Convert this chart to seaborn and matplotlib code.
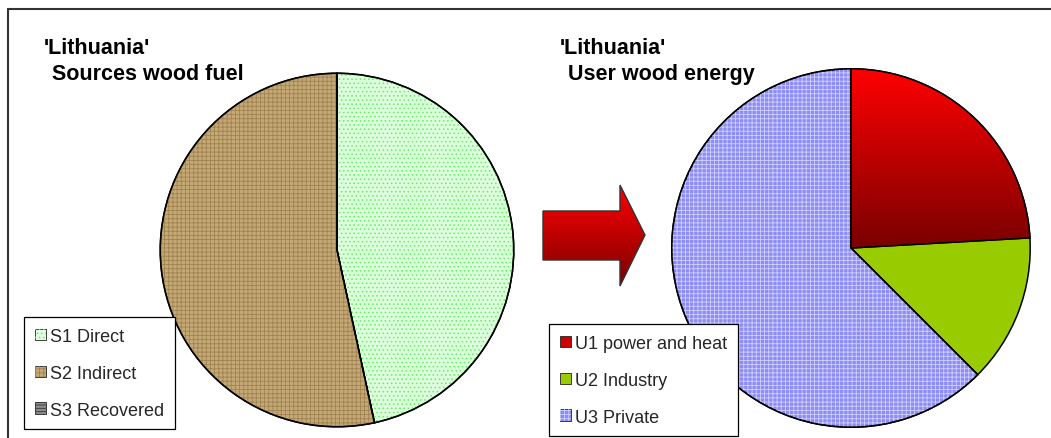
import numpy as np
import seaborn as sns
import matplotlib.pyplot as plt
from matplotlib.patches import Patch, Polygon, Wedge
from matplotlib.lines import Line2D

# Data (percent shares)
sources = ["S1 Direct", "S2 Indirect", "S3 Recovered"]
source_share = [46.6, 53.4, 0.0]
users = ["U1 power and heat", "U2 Industry", "U3 Private"]
user_share = [24.1, 13.4, 62.5]

sns.set_style("white")
plt.rcParams["font.family"] = ["Liberation Sans", "DejaVu Sans"]
plt.rcParams["hatch.linewidth"] = 0.6

W, H = 1051, 439
fig = plt.figure(figsize=(W / 100, H / 100), dpi=100)

# base fill colours and texture overlays (hatch, hatch colour)
src_fill = ["#dcffdc", "#c4a876", "#8c8c8c"]
src_tex = [("....", "#66ee66"), ("++++", "#a08350"), ("-----", "#333333")]
usr_fill = ["#cc0000", "#99cc00", "#8c8cf4"]
usr_tex = [(None, None), (None, None), ("++++", "#d0d0ff")]


def px_rect(cx, cy, r):
    return [(cx - r) / W, (H - cy - r) / H, 2 * r / W, 2 * r / H]


def textured_pie(rect, values, fills, textures):
    ax = fig.add_axes(rect)
    wedges, _ = ax.pie(values, colors=fills, startangle=90, counterclock=False,
                       wedgeprops=dict(edgecolor="black", linewidth=1.1))
    handles = []
    for w, fc, (hatch, hc) in zip(wedges, fills, textures):
        base = Patch(facecolor=fc, edgecolor="#222222", linewidth=0.6)
        if hatch:
            # texture on top of the fill, then the outline again
            tw = Wedge(w.center, w.r, w.theta1, w.theta2, facecolor="none",
                       hatch=hatch, edgecolor=hc, linewidth=0)
            ax.add_patch(tw)
            ol = Wedge(w.center, w.r, w.theta1, w.theta2, facecolor="none",
                       edgecolor="black", linewidth=1.1)
            ax.add_patch(ol)
            handles.append((base, Patch(facecolor="none", hatch=hatch,
                                        edgecolor=hc, linewidth=0)))
        else:
            handles.append(base)
    ax.set_xlim(-1.01, 1.01)
    ax.set_ylim(-1.01, 1.01)
    ax.set_aspect("equal")
    ax.axis("off")
    return ax, wedges, handles


ax1, w1, h1 = textured_pie(px_rect(337, 251, 178.5), source_share, src_fill, src_tex)
ax2, w2, h2 = textured_pie(px_rect(851, 249, 181), user_share, usr_fill, usr_tex)

# red gradient on U1 wedge
u1 = w2[0]
bb = u1.get_path().get_extents()
grad = np.linspace(0, 1, 256).reshape(-1, 1)
red_cmap = sns.blend_palette(["#7a0000", "#ff0000"], as_cmap=True)
im = ax2.imshow(grad, cmap=red_cmap, origin="lower", aspect="auto",
                extent=(bb.x0, bb.x1, bb.y0, bb.y1), zorder=u1.get_zorder() + 0.1)
im.set_clip_path(u1)
ax2.add_patch(Wedge(u1.center, u1.r, u1.theta1, u1.theta2, facecolor="none",
                    edgecolor="black", linewidth=1.1, zorder=im.get_zorder() + 0.1))
ax2.set_xlim(-1.01, 1.01)
ax2.set_ylim(-1.01, 1.01)

# overlay axes in pixel space for frame, arrow and titles
ov = fig.add_axes([0, 0, 1, 1], zorder=-1)
ov.axis("off")
fig.add_artist(Line2D([8 / W, 8 / W], [0, 1 - 10 / H], color="#333333", lw=1.5))
fig.add_artist(Line2D([8 / W, 1], [1 - 10 / H, 1 - 10 / H], color="#333333", lw=1.5))

arrow = Polygon([(543, 212), (620, 212), (620, 186), (645, 236), (620, 287),
                 (620, 261), (543, 261)], closed=True, facecolor="none",
                edgecolor="#333333", lw=1, zorder=3)
ov.add_patch(arrow)
aim = ov.imshow(grad, cmap=red_cmap.reversed(), aspect="auto", origin="upper",
                extent=(543, 645, 287, 186))
aim.set_clip_path(arrow)
ov.set_xlim(0, W)
ov.set_ylim(H, 0)

tkw = dict(fontsize=15.5, fontweight="bold", va="top", ha="left", color="black")
fig.text(44 / W, 1 - 38 / H, "'Lithuania'", **tkw)
fig.text(52 / W, 1 - 64 / H, "Sources wood fuel", **tkw)
fig.text(560 / W, 1 - 38 / H, "'Lithuania'", **tkw)
fig.text(568 / W, 1 - 64 / H, "User wood energy", **tkw)

lkw = dict(loc="upper left", fontsize=13, frameon=True, fancybox=False,
           edgecolor="black", framealpha=1, borderaxespad=0, handlelength=0.6,
           handleheight=0.6, handletextpad=0.25, labelspacing=1.1,
           borderpad=0.6)
lg1 = fig.legend(h1, sources, bbox_to_anchor=(24 / W, 1 - 318 / H), **lkw)
lg2 = fig.legend(h2, users, bbox_to_anchor=(549 / W, 1 - 325 / H), **lkw)
for lg in (lg1, lg2):
    lg.get_frame().set_linewidth(0.9)

fig.savefig("out.png", dpi=100)
